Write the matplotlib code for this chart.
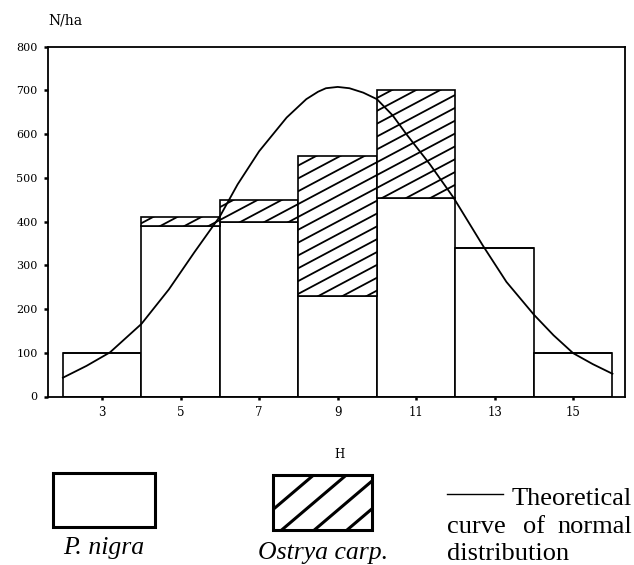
import numpy as np
import matplotlib
matplotlib.use("Agg")
import matplotlib.pyplot as plt
from matplotlib.lines import Line2D
from matplotlib.patches import Rectangle

# ---------------- data ----------------
classes = [3, 5, 7, 9, 11, 13, 15]
p_nigra = [100, 390, 400, 230, 455, 340, 100]
ostrya = [0, 20, 50, 320, 245, 0, 0]

curve_x = [2.0, 2.6, 3.2, 4.0, 4.7, 5.35, 6.0, 6.45, 7.0, 7.7, 8.2, 8.5, 8.7,
           9.0, 9.3, 9.65, 10.0, 10.4, 10.75, 11.35, 11.95, 12.7, 13.3, 14.0,
           14.5, 15.0, 15.5, 16.0]
curve_y = [43, 70, 101, 166, 245, 330, 412, 485, 561, 638, 680, 697, 705,
           708, 705, 695, 680, 643, 600, 531, 455, 345, 262, 187,
           140, 99, 74, 52]

yticks = [0, 100, 200, 300, 400, 500, 600, 700, 800]
xticks = [3, 5, 7, 9, 11, 13, 15]

# ---------------- figure ----------------
W, H = 634, 565
fig = plt.figure(figsize=(W / 100, H / 100), dpi=100)
fig.patch.set_facecolor("white")

ax = fig.add_axes([48 / W, (H - 396.5) / H, (625 - 48) / W, (396.5 - 46.7) / H])
ax.set_xlim(1.62, 16.32)
ax.set_ylim(0, 800)

lw = 1.2
bars_p = ax.bar(classes, p_nigra, width=2, facecolor="white", edgecolor="black",
                linewidth=lw, zorder=2)
bars_o = ax.bar(classes, ostrya, width=2, bottom=p_nigra, facecolor="white",
                edgecolor="black", linewidth=lw, zorder=2)

# custom shallow hatch lines clipped to each Ostrya bar
px_per_x = 39.25
px_per_y = 43.6 / 100
slope = 0.53 * px_per_x / px_per_y        # y-units per x-unit
spacing = 12.8 / px_per_y                  # vertical spacing in y-units
for b in bars_o:
    x0, y0 = b.get_x(), b.get_y()
    w, h = b.get_width(), b.get_height()
    if h <= 0:
        continue
    cmin = y0 - slope * (x0 + w)
    cmax = y0 + h - slope * x0
    k0 = int(np.floor(cmin / spacing)) - 1
    k1 = int(np.ceil(cmax / spacing)) + 1
    for k in range(k0, k1 + 1):
        c = k * spacing
        xs = np.array([x0, x0 + w])
        ln = Line2D(xs, c + slope * xs, color="black", linewidth=1.3, zorder=3)
        ax.add_line(ln)
        ln.set_clip_path(b)

ax.plot(curve_x, curve_y, color="black", linewidth=1.3, zorder=4)

for s in ax.spines.values():
    s.set_linewidth(1.3)
ax.set_yticks(yticks)
ax.set_xticks(xticks)
ax.tick_params(axis="y", length=3, width=1.8, pad=4.5, labelsize=8)
ax.tick_params(axis="x", length=2, width=1.8, pad=5, labelsize=8.5)
for lab in ax.get_xticklabels() + ax.get_yticklabels():
    lab.set_family("DejaVu Serif")

fig.text(48 / W, 1 - 25 / H, "N/ha", family="DejaVu Serif", fontsize=10,
         ha="left", va="baseline")

# ---------------- legend (pixel coordinates) ----------------
lax = fig.add_axes([0, 0, 1, 1], zorder=-1)
lax.set_xlim(0, W)
lax.set_ylim(H, 0)
lax.axis("off")

lax.add_patch(Rectangle((53, 473), 102, 54, facecolor="white", edgecolor="black",
                        linewidth=2.2))
box2 = Rectangle((273, 475), 99, 55, facecolor="white", edgecolor="black",
                 linewidth=2.2)
lax.add_patch(box2)
lslope = 0.85
c = 741.6
while c < 840:
    xs = np.array([260, 390])
    ln = Line2D(xs, c - lslope * xs, color="black", linewidth=2.2)
    lax.add_line(ln)
    ln.set_clip_path(box2)
    c += 27.8

serif = "Liberation Serif"
lax.text(339, 455, "H", family="DejaVu Serif", fontsize=8.5, ha="center", va="center")
lax.text(104, 554, "P. nigra", family=serif, style="italic", fontsize=18.5,
         ha="center", va="baseline")
lax.text(323, 559, "Ostrya carp.", family=serif, style="italic", fontsize=18.5,
         ha="center", va="baseline")
lax.plot([447, 503], [494, 494], color="black", linewidth=1.0)
lax.text(512, 505, "Theoretical", family=serif, fontsize=19, ha="left", va="baseline")
lax.text(447, 533, "curve", family=serif, fontsize=19, ha="left", va="baseline")
lax.text(523, 533, "of", family=serif, fontsize=19, ha="left", va="baseline")
lax.text(632, 533, "normal", family=serif, fontsize=19, ha="right", va="baseline")
lax.text(447, 560, "distribution", family=serif, fontsize=19, ha="left", va="baseline")

fig.savefig("out.png", dpi=100, facecolor="white")
